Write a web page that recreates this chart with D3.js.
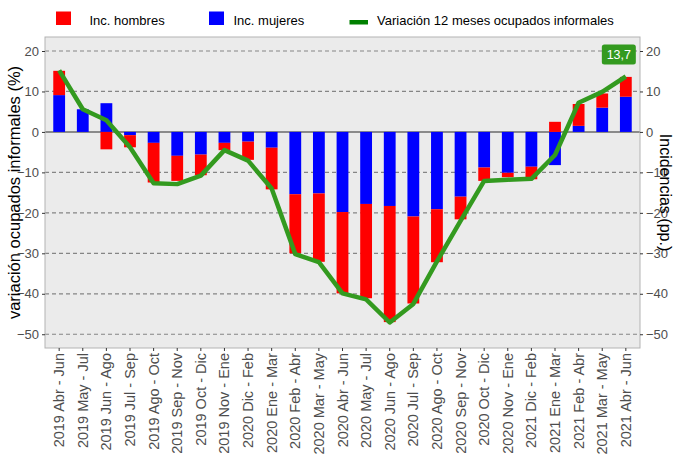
<!DOCTYPE html>
<html>
<head>
<meta charset="utf-8">
<script src="https://cdn.jsdelivr.net/npm/d3@7"></script>
<style>
  body { margin: 0; background: #fff; }
  svg { display: block; }
  .narrow { font-family: "Liberation Sans Narrow", "Liberation Sans", Arial, sans-serif; }
  .regular { font-family: "Liberation Sans", Arial, sans-serif; }
</style>
</head>
<body>
<div id="chart"></div>
<script>
const categories = [
  '2019 Abr - Jun', '2019 May - Jul', '2019 Jun - Ago', '2019 Jul - Sep', '2019 Ago - Oct',
  '2019 Sep - Nov', '2019 Oct - Dic', '2019 Nov - Ene', '2020 Dic - Feb', '2020 Ene - Mar',
  '2020 Feb - Abr', '2020 Mar - May', '2020 Abr - Jun', '2020 May - Jul', '2020 Jun - Ago',
  '2020 Jul - Sep', '2020 Ago - Oct', '2020 Sep - Nov', '2020 Oct - Dic', '2020 Nov - Ene',
  '2021 Dic - Feb', '2021 Ene - Mar', '2021 Feb - Abr', '2021 Mar - May', '2021 Abr - Jun'
];
// incidencias (pp.)
const hombres = [6.0, 0.0, -4.3, -3.0, -9.8, -6.2, -5.1, -1.8, -4.5, -10.3,
  -14.6, -16.9, -20.1, -23.3, -28.7, -21.5, -13.1, -5.6, -3.3, -1.1,
  -3.1, 2.5, 5.4, 3.5, 4.9];
const mujeres = [9.1, 5.6, 7.1, -0.8, -2.7, -5.9, -5.6, -2.7, -2.4, -3.9,
  -15.4, -15.2, -19.8, -17.8, -18.3, -20.9, -19.1, -16.0, -8.8, -10.1,
  -8.6, -8.2, 1.5, 6.0, 8.7];
// variación 12 meses ocupados informales (%)
const variacion = [15.2, 5.6, 2.9, -3.8, -12.7, -12.9, -10.8, -4.5, -7.1, -14.0,
  -30.2, -32.2, -39.9, -41.4, -47.1, -42.5, -32.0, -22.0, -12.1, -11.8,
  -11.6, -5.7, 7.2, 9.9, 13.7];
const yTicks = [20, 10, 0, -10, -20, -30, -40, -50];

const width = 675;
const height = 459;
const panel = {left: 45, right: 640, top: 37, bottom: 348};

const colors = {hombres: '#ff0000', mujeres: '#0000ff'};
const lineColor = '#339a1f';

const svg = d3.select('#chart')
  .append('svg')
  .attr('width', width)
  .attr('height', height);

const x = d3.scaleBand()
  .domain(categories)
  .range([panel.left, panel.right])
  .paddingInner(0.5)
  .paddingOuter(0.35);

const y = d3.scaleLinear()
  .domain([-53.4, 23.46])
  .range([panel.bottom, panel.top]);

// panel background
svg.append('rect')
  .attr('x', panel.left)
  .attr('y', panel.top)
  .attr('width', panel.right - panel.left)
  .attr('height', panel.bottom - panel.top)
  .attr('fill', '#ebebeb');

// dashed grid
svg.append('g')
  .selectAll('line')
  .data(yTicks.filter(function(d) { return d !== 0; }))
  .enter()
  .append('line')
  .attr('x1', panel.left)
  .attr('x2', panel.right)
  .attr('y1', function(d) { return y(d); })
  .attr('y2', function(d) { return y(d); })
  .attr('stroke', '#858585')
  .attr('stroke-width', 1.2)
  .attr('stroke-dasharray', '4,3');

// zero line
svg.append('line')
  .attr('x1', panel.left)
  .attr('x2', panel.right)
  .attr('y1', y(0))
  .attr('y2', y(0))
  .attr('stroke', '#8a8a8a')
  .attr('stroke-width', 2);

// stacked bars, mujeres next to zero, hombres outside
const rows = categories.map(function(c, i) {
  return {cat: c, mujeres: mujeres[i], hombres: hombres[i]};
});
const series = d3.stack()
  .keys(['mujeres', 'hombres'])
  .offset(d3.stackOffsetDiverging)(rows);

svg.append('g')
  .selectAll('g')
  .data(series)
  .enter()
  .append('g')
  .attr('fill', function(s) { return colors[s.key]; })
  .selectAll('rect')
  .data(function(s) { return s; })
  .enter()
  .append('rect')
  .attr('x', function(d) { return x(d.data.cat); })
  .attr('width', x.bandwidth())
  .attr('y', function(d) { return y(Math.max(d[0], d[1])); })
  .attr('height', function(d) { return Math.abs(y(d[0]) - y(d[1])); });

// variation line
const line = d3.line()
  .x(function(d, i) { return x(categories[i]) + x.bandwidth() / 2; })
  .y(function(d) { return y(d); });

svg.append('path')
  .datum(variacion)
  .attr('d', line)
  .attr('fill', 'none')
  .attr('stroke', lineColor)
  .attr('stroke-width', 4.5)
  .attr('stroke-linejoin', 'round');

// label for last value
const fmt = d3.formatLocale({decimal: ',', thousands: '.', grouping: [3], currency: ['', '']}).format('.1f');
const last = variacion.length - 1;
const lx = x(categories[last]) + x.bandwidth() / 2 - 7;
const ly = y(variacion[last]) - 22;
svg.append('rect')
  .attr('x', lx - 17)
  .attr('y', ly - 10)
  .attr('width', 34)
  .attr('height', 20)
  .attr('rx', 2.5)
  .attr('fill', lineColor);
svg.append('text')
  .attr('class', 'narrow')
  .attr('x', lx)
  .attr('y', ly + 4.5)
  .attr('text-anchor', 'middle')
  .attr('fill', '#fff')
  .attr('font-size', 12.5)
  .text(fmt(variacion[last]));

// panel border
svg.append('rect')
  .attr('x', panel.left)
  .attr('y', panel.top)
  .attr('width', panel.right - panel.left)
  .attr('height', panel.bottom - panel.top)
  .attr('fill', 'none')
  .attr('stroke', '#b3b3b3')
  .attr('stroke-width', 1);

// axes
const leftAxis = svg.append('g')
  .attr('class', 'narrow')
  .attr('transform', 'translate(' + panel.left + ',0)')
  .call(d3.axisLeft(y).tickValues(yTicks).tickSize(3).tickPadding(3));
const rightAxis = svg.append('g')
  .attr('class', 'narrow')
  .attr('transform', 'translate(' + panel.right + ',0)')
  .call(d3.axisRight(y).tickValues(yTicks).tickSize(3).tickPadding(3));
const bottomAxis = svg.append('g')
  .attr('class', 'regular')
  .attr('transform', 'translate(0,' + panel.bottom + ')')
  .call(d3.axisBottom(x).tickSize(3).tickPadding(3));

[leftAxis, rightAxis].forEach(function(a) {
  a.select('.domain').remove();
  a.selectAll('.tick line').attr('stroke', '#333');
  a.selectAll('.tick text')
    .attr('font-family', null)
    .attr('font-size', 13)
    .attr('fill', '#4d4d4d');
});
bottomAxis.select('.domain').remove();
bottomAxis.selectAll('.tick line').attr('stroke', '#333');
bottomAxis.selectAll('.tick text')
  .attr('font-family', null)
  .attr('font-size', 14.5)
  .attr('fill', '#4d4d4d')
  .attr('text-anchor', 'end')
  .attr('dy', null)
  .attr('transform', 'rotate(-90)')
  .attr('x', -5)
  .attr('y', 5);

// axis titles
svg.append('text')
  .attr('class', 'regular')
  .attr('transform', 'translate(20,' + (panel.top + panel.bottom) / 2 + ') rotate(-90)')
  .attr('text-anchor', 'middle')
  .attr('font-size', 16.5)
  .text('variación ocupados informales (%)');
svg.append('text')
  .attr('class', 'regular')
  .attr('transform', 'translate(660,' + (panel.top + panel.bottom) / 2 + ') rotate(90)')
  .attr('text-anchor', 'middle')
  .attr('font-size', 16)
  .text('Incidencias (pp.)');

// legend
const legend = svg.append('g').attr('class', 'regular');
const legendItems = [
  {label: 'Inc. hombres', color: colors.hombres, kind: 'rect', x: 56, tx: 89.5},
  {label: 'Inc. mujeres', color: colors.mujeres, kind: 'rect', x: 209, tx: 233.5},
  {label: 'Variación 12 meses ocupados informales', color: '#008000', kind: 'line', x: 349.5, tx: 377}
];
legendItems.forEach(function(d) {
  if (d.kind === 'rect') {
    legend.append('rect')
      .attr('x', d.x).attr('y', 11.5)
      .attr('width', 15).attr('height', 13.5)
      .attr('fill', d.color);
  } else {
    legend.append('rect')
      .attr('x', d.x).attr('y', 20)
      .attr('width', 18.5).attr('height', 4.5)
      .attr('fill', d.color);
  }
  legend.append('text')
    .attr('x', d.tx)
    .attr('y', 25)
    .attr('font-size', 13)
    .attr('fill', '#000')
    .text(d.label);
});
</script>
</body>
</html>
